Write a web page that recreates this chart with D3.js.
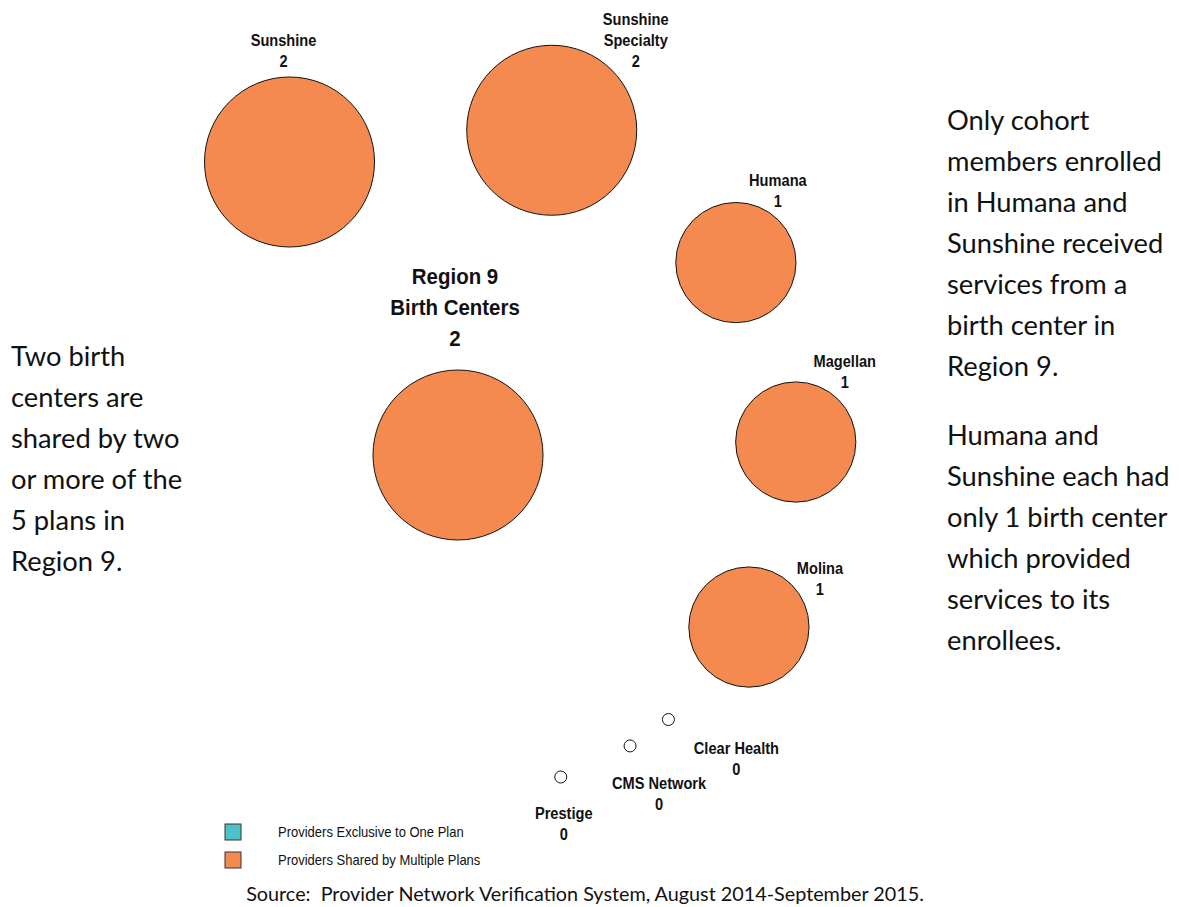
<!DOCTYPE html>
<html>
<head>
<meta charset="utf-8">
<script src="https://cdn.jsdelivr.net/npm/d3@7"></script>
<style>
  html, body { margin: 0; padding: 0; background: #fff; }
  svg { display: block; }
  .lbl { font-family: "Liberation Sans", Arial, sans-serif; font-weight: bold; fill: #111; }
  .note { font-family: Lato, "Open Sans", sans-serif; fill: #111; white-space: pre; }
  .leg { font-family: "Liberation Sans", Arial, sans-serif; fill: #111; }
</style>
</head>
<body>
<script>
// ---- data ----
const plans = ["Sunshine", "Sunshine Specialty", "Humana", "Magellan", "Molina", "Clear Health", "CMS Network", "Prestige"];
const planLabelLines = [["Sunshine"], ["Sunshine", "Specialty"], ["Humana"], ["Magellan"], ["Molina"], ["Clear Health"], ["CMS Network"], ["Prestige"]];
const birthCenters = [2, 2, 1, 1, 1, 0, 0, 0];
const planAngles = [-29.9, 16.1, 55.3, 87.8, 120.6, 141.5, 149.4, 162.3]; // degrees, clockwise from 12 o'clock
const regionTitle = ["Region 9", "Birth Centers"];
const regionTotal = 2;
const legendLabels = ["Providers Exclusive to One Plan", "Providers Shared by Multiple Plans"];
const legendColors = ["#4FC1C9", "#F58A51"];
const leftNote = ["Two birth", "centers are", "shared by two", "or more of the", "5 plans in", "Region 9."];
const rightNote1 = ["Only cohort", "members enrolled", "in Humana and", "Sunshine received", "services from a", "birth center in", "Region 9."];
const rightNote2 = ["Humana and", "Sunshine each had", "only 1 birth center", "which provided", "services to its", "enrollees."];
const sourceText = "Source:  Provider Network Verification System, August 2014-September 2015.";

// ---- layout ----
const W = 1179, H = 907;
const hub = { x: 458, y: 455 };
const orbit = 338;
const labelOffsets = [[-6, -95], [84, -63], [42, -56], [49, -54], [71, -32], [68, 55], [29, 64], [3, 63]];
const lineGap = 21;
const condense = 0.86;

const svg = d3.select("body").append("svg").attr("width", W).attr("height", H);

const rScale = d3.scaleSqrt().domain([0, 2]).range([0, 85]);
const radius = v => Math.max(6, rScale(v));
const angleScale = d3.scaleLinear().domain([0, 360]).range([0, 2 * Math.PI]);
const orbitScale = d3.scaleLinear().domain([0, 1]).range([0, orbit]);

const nodes = plans.map((p, i) => {
  const [px, py] = d3.pointRadial(angleScale(planAngles[i]), orbitScale(1));
  return { name: p, lines: planLabelLines[i], value: birthCenters[i], x: hub.x + px, y: hub.y + py, off: labelOffsets[i] };
});

// hub circle
svg.append("circle")
  .attr("cx", hub.x).attr("cy", hub.y).attr("r", radius(regionTotal))
  .attr("fill", legendColors[1]).attr("stroke", "#111").attr("stroke-width", 1);

const hubX = hub.x - 3;
const hubLabel = svg.append("text").attr("class", "lbl").attr("text-anchor", "middle")
  .attr("font-size", 22)
  .attr("transform", `translate(${hubX},0) scale(0.93,1)`);
regionTitle.concat([String(regionTotal)]).forEach((t, i) => {
  hubLabel.append("tspan").attr("x", 0).attr("y", 284 + i * 31).text(t);
});

// plan circles
svg.selectAll("circle.plan").data(nodes).join("circle")
  .attr("class", "plan")
  .attr("cx", d => d.x).attr("cy", d => d.y).attr("r", d => radius(d.value))
  .attr("fill", d => d.value > 0 ? legendColors[1] : "#fff")
  .attr("stroke", "#111").attr("stroke-width", 1);

// plan labels
const lab = svg.selectAll("text.plabel").data(nodes).join("text")
  .attr("class", "lbl plabel").attr("text-anchor", "middle").attr("font-size", 17)
  .attr("transform", d => `translate(${d.x + d.off[0]},0) scale(${condense},1)`);
lab.each(function (d) {
  const all = d.lines.concat([String(d.value)]);
  const n = all.length;
  const g = d3.select(this);
  all.forEach((t, i) => {
    g.append("tspan").attr("x", 0).attr("y", d.y + d.off[1] - (n - 1 - i) * lineGap).text(t);
  });
});

// notes
function note(lines, x, y0) {
  const t = svg.append("text").attr("class", "note").attr("font-size", 27.3);
  lines.forEach((l, i) => t.append("tspan").attr("x", x).attr("y", y0 + i * 41).text(l));
}
note(leftNote, 11, 366);
note(rightNote1, 947, 130);
note(rightNote2, 947, 445);

// legend
const leg = svg.append("g");
legendLabels.forEach((l, i) => {
  leg.append("rect").attr("x", 225).attr("y", 824 + i * 28).attr("width", 16).attr("height", 16)
    .attr("fill", legendColors[i]).attr("stroke", "#333").attr("stroke-width", 1);
  leg.append("text").attr("class", "leg").attr("x", 278).attr("y", 837 + i * 28)
    .attr("font-size", 14).attr("transform", `translate(278,0) scale(0.93,1) translate(-278,0)`).text(l);
});

// source
svg.append("text").attr("class", "note").attr("x", 585).attr("y", 901)
  .attr("text-anchor", "middle").attr("font-size", 19.8).text(sourceText);
</script>
</body>
</html>
